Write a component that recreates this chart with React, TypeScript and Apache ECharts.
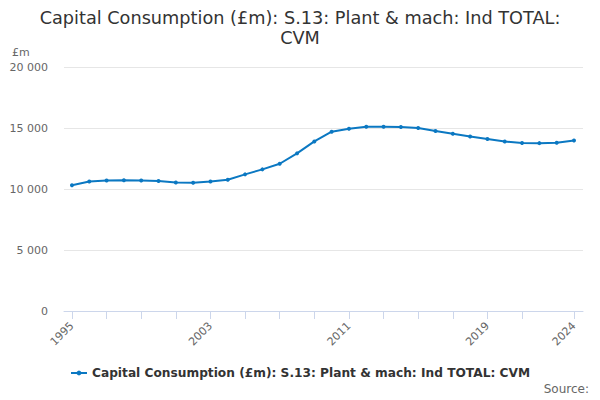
import React, { useEffect, useRef } from "react";
import * as echarts from "echarts";

const years: number[] = [
  1995, 1996, 1997, 1998, 1999, 2000, 2001, 2002, 2003, 2004, 2005, 2006, 2007, 2008, 2009,
  2010, 2011, 2012, 2013, 2014, 2015, 2016, 2017, 2018, 2019, 2020, 2021, 2022, 2023, 2024,
];
const values: number[] = [
  10300, 10620, 10700, 10710, 10700, 10650, 10540, 10510, 10620, 10760, 11200, 11610, 12070,
  12920, 13900, 14700, 14940, 15100, 15100, 15090, 15000, 14750, 14530, 14310, 14100, 13900,
  13770, 13760, 13790, 13980,
];
const xTickValues: number[] = [1995, 1997, 1999, 2001, 2003, 2005, 2007, 2009, 2011, 2013, 2015, 2017, 2019, 2021, 2024];
const xLabelValues: number[] = [1995, 2003, 2011, 2019, 2024];
const yTicks: number[] = [0, 5000, 10000, 15000, 20000];

const seriesName = "Capital Consumption (£m): S.13: Plant & mach: Ind TOTAL: CVM";
const titleText = "Capital Consumption (£m): S.13: Plant & mach: Ind TOTAL:\nCVM";
const FONT = "DejaVu Sans";

export default function App() {
  const ref = useRef<HTMLDivElement>(null);
  useEffect(() => {
    if (!ref.current) return;
    const chart = echarts.init(ref.current, null, { renderer: "svg" });
    chart.setOption({
      animation: false,
      textStyle: { fontFamily: FONT },
      title: {
        text: titleText,
        left: "center",
        top: 3,
        textStyle: { fontFamily: FONT, fontSize: 17.7, fontWeight: "normal", color: "#333333", lineHeight: 20, align: "center" },
      },
      grid: { left: 64, right: 17, top: 67, bottom: 89, containLabel: false },
      xAxis: {
        type: "value",
        min: 1994.54,
        max: 2024.52,
        axisLine: { show: true, lineStyle: { color: "#ccd6eb", width: 1 } },
        axisTick: { show: true, length: 8, lineStyle: { color: "#ccd6eb" }, customValues: xTickValues },
        axisLabel: {
          customValues: xLabelValues,
          rotate: 45,
          color: "#666666",
          fontSize: 11,
          fontFamily: FONT,
          margin: 13,
          formatter: (v: number) => String(Math.round(v)),
        },
        splitLine: { show: false },
      },
      yAxis: {
        type: "value",
        min: yTicks[0],
        max: yTicks[yTicks.length - 1],
        interval: 5000,
        axisLine: { show: false },
        axisTick: { show: false },
        axisLabel: {
          color: "#666666",
          fontSize: 11,
          fontFamily: FONT,
          margin: 16,
          formatter: (v: number) => String(v).replace(/\B(?=(\d{3})+(?!\d))/g, " "),
        },
        splitLine: { lineStyle: { color: "#e6e6e6", width: 1 } },
      },
      legend: {
        bottom: 16,
        left: "center",
        itemWidth: 16,
        itemHeight: 6,
        itemGap: 5,
        textStyle: { fontFamily: FONT, fontSize: 12.2, fontWeight: "bold", color: "#333333" },
        data: [seriesName],
      },
      graphic: [
        {
          type: "text",
          left: 12,
          top: 47,
          style: { text: "£m", font: "11px 'DejaVu Sans'", fill: "#666666" },
        },
        {
          type: "text",
          right: 11,
          top: 383,
          style: { text: "Source:", font: "12px 'DejaVu Sans'", fill: "#666666" },
        },
      ],
      series: [
        {
          name: seriesName,
          type: "line",
          data: years.map((y, i) => [y, values[i]]),
          symbol: "circle",
          symbolSize: 4,
          lineStyle: { color: "#0b78c2", width: 2 },
          itemStyle: { color: "#0b78c2" },
        },
      ],
    });
    return () => chart.dispose();
  }, []);
  return <div ref={ref} style={{ width: 600, height: 400, marginTop: -8, marginLeft: -8 }} />;
}
